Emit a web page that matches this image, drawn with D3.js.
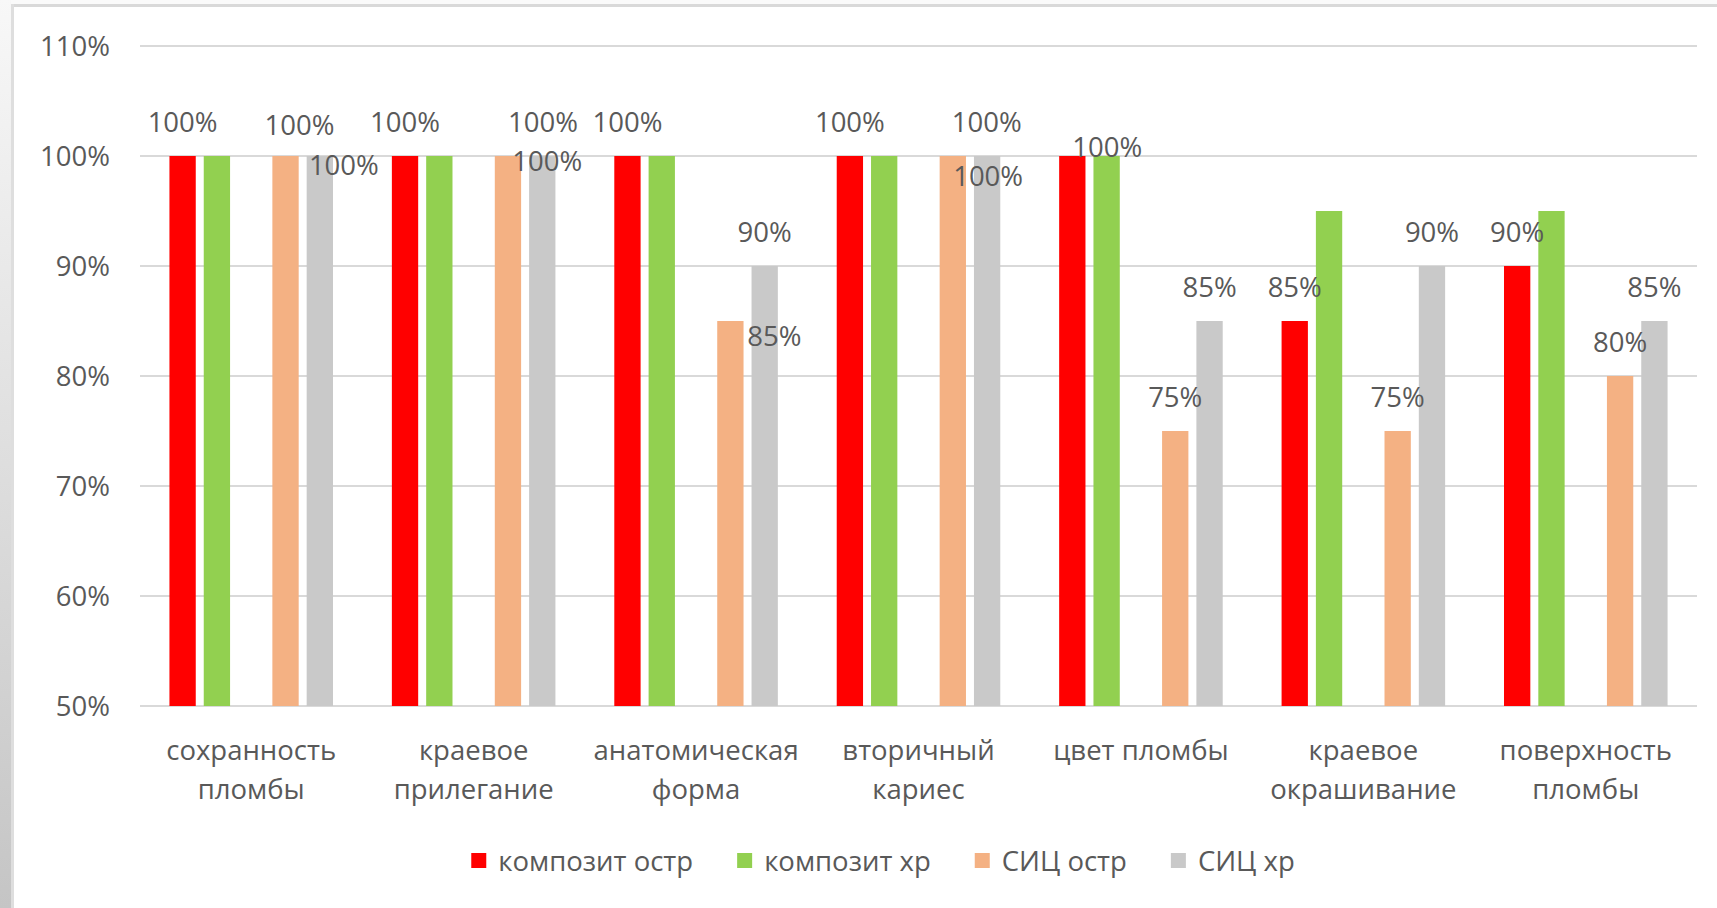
<!DOCTYPE html>
<html>
<head>
<meta charset="utf-8">
<script src="https://cdn.jsdelivr.net/npm/d3@7"></script>
<style>
  html, body { margin: 0; padding: 0; background: #ffffff; }
  svg { display: block; }
  text { font-family: "Open Sans", "Liberation Sans", sans-serif; fill: #595959; }
</style>
</head>
<body>
<svg id="chart" width="1717" height="908"></svg>
<script>
// ---------------- data ----------------
const categories = [
  "сохранность пломбы",
  "краевое прилегание",
  "анатомическая форма",
  "вторичный кариес",
  "цвет пломбы",
  "краевое окрашивание",
  "поверхность пломбы"
];
const seriesNames = ["композит остр", "композит хр", "СИЦ остр", "СИЦ хр"];
const kompozitOstr = [1.00, 1.00, 1.00, 1.00, 1.00, 0.85, 0.90];
const kompozitHr   = [1.00, 1.00, 1.00, 1.00, 1.00, 0.95, 0.95];
const sicOstr      = [1.00, 1.00, 0.85, 1.00, 0.75, 0.75, 0.80];
const sicHr        = [1.00, 1.00, 0.90, 1.00, 0.85, 0.90, 0.85];
const seriesValues = [kompozitOstr, kompozitHr, sicOstr, sicHr];
const yTicks = [0.5, 0.6, 0.7, 0.8, 0.9, 1.0, 1.1];
const labelledSeries = ["композит остр", "СИЦ остр", "СИЦ хр"];

// ---------------- style / layout ----------------
const colors = {
  "композит остр": "#FF0000",
  "композит хр": "#92D050",
  "СИЦ остр": "#F4B183",
  "СИЦ хр": "#C9C9C9"
};
// manual data-label nudges (px) as placed in the original chart
const labelNudge = {
  "0|СИЦ остр": [14, 3],
  "0|СИЦ хр": [24, 43],
  "1|СИЦ остр": [35, 0],
  "1|СИЦ хр": [5, 39],
  "2|СИЦ остр": [44, 49],
  "3|СИЦ остр": [34, 0],
  "3|СИЦ хр": [1, 54],
  "4|композит остр": [35, 25]
};
const FONT = 27.5;
const plot = { left: 140, right: 1697, top: 46, bottom: 706 };

const svg = d3.select("#chart");

// ---------- background / frame ----------
const defs = svg.append("defs");
const grad = defs.append("linearGradient").attr("id", "leftStrip")
  .attr("x1", 0).attr("y1", 0).attr("x2", 0).attr("y2", 1);
grad.append("stop").attr("offset", "0%").attr("stop-color", "#f8f8f8");
grad.append("stop").attr("offset", "100%").attr("stop-color", "#c5c5c5");

svg.append("rect").attr("x", 0).attr("y", 0).attr("width", 1717).attr("height", 908).attr("fill", "#ffffff");
svg.append("rect").attr("x", 0).attr("y", 0).attr("width", 1717).attr("height", 4).attr("fill", "#fafafa");
svg.append("rect").attr("x", 0).attr("y", 0).attr("width", 11).attr("height", 908).attr("fill", "url(#leftStrip)");
svg.append("rect").attr("x", 11).attr("y", 4).attr("width", 1706).attr("height", 3).attr("fill", "#d9d9d9");
svg.append("rect").attr("x", 11).attr("y", 4).attr("width", 3).attr("height", 904).attr("fill", "#dedede");

// ---------- scales ----------
const x0 = d3.scaleBand().domain(categories.map((d, i) => i))
  .range([plot.left, plot.right]).paddingInner(0).paddingOuter(0);
const slots = ["композит остр", "композит хр", "__gap", "СИЦ остр", "СИЦ хр"];
const x1 = d3.scaleBand().domain(slots).range([0, x0.bandwidth()])
  .paddingInner(0.233).paddingOuter(0.858);
const y = d3.scaleLinear().domain([0.5, 1.1]).range([plot.bottom, plot.top]);
const pct = d3.format(".0%");

// ---------- gridlines ----------
svg.append("g").selectAll("line").data(yTicks).join("line")
  .attr("x1", plot.left).attr("x2", plot.right)
  .attr("y1", d => y(d)).attr("y2", d => y(d))
  .attr("stroke", "#d9d9d9").attr("stroke-width", 2);

// ---------- y axis labels ----------
const yAxis = d3.axisLeft(y).tickValues(yTicks).tickFormat(pct).tickSize(0).tickPadding(0);
const gy = svg.append("g").attr("transform", `translate(110,0)`).call(yAxis);
gy.select(".domain").remove();
gy.selectAll("text").attr("font-size", FONT).attr("fill", "#595959")
  .style("font-family", "\"Open Sans\", sans-serif").attr("dy", "0.35em");

// ---------- bars ----------
const barData = [];
categories.forEach((c, ci) => {
  seriesNames.forEach((s, si) => {
    barData.push({ ci, s, v: seriesValues[si][ci] });
  });
});
svg.append("g").selectAll("rect").data(barData).join("rect")
  .attr("x", d => x0(d.ci) + x1(d.s))
  .attr("width", x1.bandwidth())
  .attr("y", d => y(d.v))
  .attr("height", d => y(0.5) - y(d.v))
  .attr("fill", d => colors[d.s]);

// ---------- data labels ----------
svg.append("g").selectAll("text")
  .data(barData.filter(d => labelledSeries.includes(d.s))).join("text")
  .attr("x", d => x0(d.ci) + x1(d.s) + x1.bandwidth() / 2 + (labelNudge[d.ci + "|" + d.s] || [0, 0])[0])
  .attr("y", d => y(d.v) - 24 + (labelNudge[d.ci + "|" + d.s] || [0, 0])[1])
  .attr("text-anchor", "middle")
  .attr("font-size", FONT)
  .text(d => pct(d.v));

// ---------- category labels (wrapped) ----------
const catG = svg.append("g");
categories.forEach((c, ci) => {
  const cx = x0(ci) + x0.bandwidth() / 2;
  const t = catG.append("text").attr("text-anchor", "middle").attr("font-size", FONT);
  const words = c.split(" ");
  const maxW = x0.bandwidth() * 0.95;
  let lines = [];
  let cur = [];
  const probe = catG.append("text").attr("font-size", FONT);
  words.forEach(w => {
    const test = cur.concat([w]).join(" ");
    probe.text(test);
    if (cur.length && probe.node().getComputedTextLength() > maxW) {
      lines.push(cur.join(" "));
      cur = [w];
    } else {
      cur.push(w);
    }
  });
  lines.push(cur.join(" "));
  probe.remove();
  lines.forEach((ln, li) => {
    t.append("tspan").attr("x", cx).attr("y", 760 + li * 38.5).text(ln);
  });
});

// ---------- legend ----------
const legend = svg.append("g");
let lx = 0;
seriesNames.forEach((s, i) => {
  const g = legend.append("g");
  g.append("rect").attr("x", 0).attr("y", -8).attr("width", 15).attr("height", 15).attr("fill", colors[s]);
  const tx = g.append("text").attr("x", 27).attr("y", 0).attr("dy", "0.35em")
    .attr("font-size", FONT).text(s);
  const w = 27 + tx.node().getComputedTextLength();
  g.attr("transform", `translate(${lx},0)`);
  lx += w + 44;
});
const legendW = lx - 44;
legend.attr("transform", `translate(${883 - legendW / 2},861)`);
</script>
</body>
</html>
